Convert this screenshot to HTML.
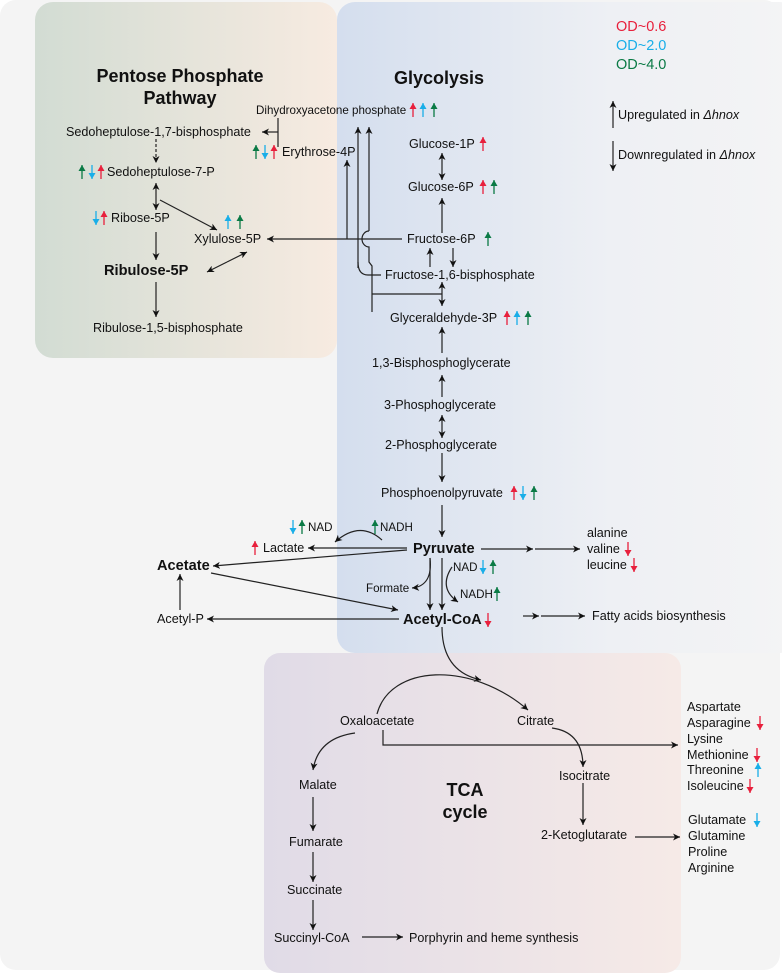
<!DOCTYPE html>
<html><head><meta charset="utf-8"><style>
html,body{margin:0;padding:0;background:#fff;}
svg{display:block;font-family:"Liberation Sans",Arial,sans-serif;}
text{fill:#111;font-size:12.6px;}
.b{font-weight:bold;font-size:14.6px;}
.t{font-weight:bold;font-size:18px;}
.s{font-size:11.6px;}
.l{stroke:#222;stroke-width:1.2;fill:none;}
</style></head><body>
<svg width="782" height="975" viewBox="0 0 782 975">
<defs>
<marker id="a" markerUnits="userSpaceOnUse" markerWidth="8" markerHeight="8" refX="7" refY="4" orient="auto"><path d="M0,0.5 L7,4 L0,7.5 L2,4 Z" fill="#111"/></marker>
<marker id="ar" markerUnits="userSpaceOnUse" markerWidth="8" markerHeight="8" refX="6" refY="4" orient="auto"><path d="M0,0.5 L6,4 L0,7.5 Z" fill="#e8203c"/></marker>
<marker id="ac" markerUnits="userSpaceOnUse" markerWidth="8" markerHeight="8" refX="6" refY="4" orient="auto"><path d="M0,0.5 L6,4 L0,7.5 Z" fill="#19aee8"/></marker>
<marker id="ag" markerUnits="userSpaceOnUse" markerWidth="8" markerHeight="8" refX="6" refY="4" orient="auto"><path d="M0,0.5 L6,4 L0,7.5 Z" fill="#0a7a45"/></marker>
<linearGradient id="gp" x1="0" x2="1"><stop offset="0" stop-color="#d2dcd3"/><stop offset="1" stop-color="#f7ebe1"/></linearGradient>
<linearGradient id="gg" x1="0" x2="1"><stop offset="0" stop-color="#d4deee"/><stop offset="0.6" stop-color="#eef0f4"/><stop offset="1" stop-color="#f4f4f5"/></linearGradient>
<linearGradient id="gt" x1="0" x2="1"><stop offset="0" stop-color="#e0dbe7"/><stop offset="1" stop-color="#f6eae7"/></linearGradient>
</defs>
<rect x="0" y="0" width="780" height="970" rx="16" fill="#f4f4f4"/>
<rect x="337" y="2" width="460" height="651" rx="18" fill="url(#gg)"/>
<rect x="35" y="2" width="302" height="356" rx="18" fill="url(#gp)"/>
<rect x="264" y="653" width="417" height="320" rx="16" fill="url(#gt)"/>

<text x="616" y="31" style="font-size:14.5px;fill:#e8203c">OD~0.6</text>
<text x="616" y="50" style="font-size:14.5px;fill:#19aee8">OD~2.0</text>
<text x="616" y="69" style="font-size:14.5px;fill:#0a7a45">OD~4.0</text>
<line class="l" x1="613" y1="128" x2="613" y2="101" marker-end="url(#a)"/>
<text x="618" y="119">Upregulated in <tspan font-style="italic">Δhnox</tspan></text>
<line class="l" x1="613" y1="141" x2="613" y2="171" marker-end="url(#a)"/>
<text x="618" y="159">Downregulated in <tspan font-style="italic">Δhnox</tspan></text>

<text class="t" x="180" y="82" text-anchor="middle">Pentose Phosphate</text>
<text class="t" x="180" y="104" text-anchor="middle">Pathway</text>
<text class="t" x="439" y="84" text-anchor="middle">Glycolysis</text>
<text class="t" x="465" y="796" text-anchor="middle">TCA</text>
<text class="t" x="465" y="818" text-anchor="middle">cycle</text>

<text class="s" x="256" y="114">Dihydroxyacetone phosphate</text>
<text x="66" y="136">Sedoheptulose-1,7-bisphosphate</text>
<line class="l" x1="278" y1="118" x2="278" y2="147"/>
<line class="l" x1="278" y1="132" x2="262" y2="132" marker-end="url(#a)"/>
<text x="282" y="156">Erythrose-4P</text>
<line class="l" x1="156" y1="139" x2="156" y2="163" stroke-dasharray="3,2" marker-end="url(#a)"/>
<text x="107" y="176">Sedoheptulose-7-P</text>
<line class="l" x1="156" y1="196" x2="156" y2="183" marker-end="url(#a)"/>
<line class="l" x1="156" y1="196" x2="156" y2="210" marker-end="url(#a)"/>
<line class="l" x1="160" y1="200" x2="217" y2="230" marker-end="url(#a)"/>
<text x="111" y="222">Ribose-5P</text>
<text x="194" y="243">Xylulose-5P</text>
<line class="l" x1="156" y1="232" x2="156" y2="260" marker-end="url(#a)"/>
<text class="b" x="104" y="275">Ribulose-5P</text>
<line class="l" x1="227" y1="262" x2="247" y2="252" marker-end="url(#a)"/>
<line class="l" x1="227" y1="262" x2="207" y2="272" marker-end="url(#a)"/>
<line class="l" x1="156" y1="282" x2="156" y2="317" marker-end="url(#a)"/>
<text x="93" y="332">Ribulose-1,5-bisphosphate</text>

<line class="l" x1="402" y1="239" x2="267" y2="239" marker-end="url(#a)"/>
<line class="l" x1="347" y1="239" x2="347" y2="160" marker-end="url(#a)"/>
<path class="l" d="M358,268 V127" marker-end="url(#a)"/>
<path class="l" d="M358,262 Q358,275 368,275 H381"/>
<path class="l" d="M369,231 V127" marker-end="url(#a)"/>
<path class="l" d="M369,231 A7,8 0 0 0 369,247 V262 L372,266 V312"/>
<path class="l" d="M372,294 H442"/>

<text x="409" y="148">Glucose-1P</text>
<line class="l" x1="442" y1="166" x2="442" y2="153" marker-end="url(#a)"/>
<line class="l" x1="442" y1="166" x2="442" y2="180" marker-end="url(#a)"/>
<text x="408" y="191">Glucose-6P</text>
<line class="l" x1="442" y1="233" x2="442" y2="198" marker-end="url(#a)"/>
<text x="407" y="243">Fructose-6P</text>
<line class="l" x1="430" y1="267" x2="430" y2="248" marker-end="url(#a)"/>
<line class="l" x1="453" y1="248" x2="453" y2="267" marker-end="url(#a)"/>
<text x="385" y="279">Fructose-1,6-bisphosphate</text>
<line class="l" x1="442" y1="294" x2="442" y2="282" marker-end="url(#a)"/>
<line class="l" x1="442" y1="294" x2="442" y2="306" marker-end="url(#a)"/>
<text x="390" y="322">Glyceraldehyde-3P</text>
<line class="l" x1="442" y1="353" x2="442" y2="327" marker-end="url(#a)"/>
<text x="372" y="367">1,3-Bisphosphoglycerate</text>
<line class="l" x1="442" y1="397" x2="442" y2="375" marker-end="url(#a)"/>
<text x="384" y="409">3-Phosphoglycerate</text>
<line class="l" x1="442" y1="426" x2="442" y2="415" marker-end="url(#a)"/>
<line class="l" x1="442" y1="426" x2="442" y2="438" marker-end="url(#a)"/>
<text x="385" y="449">2-Phosphoglycerate</text>
<line class="l" x1="442" y1="453" x2="442" y2="482" marker-end="url(#a)"/>
<text x="381" y="497">Phosphoenolpyruvate</text>
<line class="l" x1="442" y1="505" x2="442" y2="537" marker-end="url(#a)"/>
<text class="b" x="413" y="553">Pyruvate</text>

<text class="s" x="308" y="531">NAD</text>
<text class="s" x="380" y="531">NADH</text>
<path class="l" d="M382,540 Q360,520 335,542" marker-end="url(#a)"/>
<text x="263" y="552">Lactate</text>
<line class="l" x1="407" y1="548" x2="308" y2="548" marker-end="url(#a)"/>
<text class="b" x="157" y="570">Acetate</text>
<line class="l" x1="407" y1="550" x2="213" y2="566" marker-end="url(#a)"/>
<line class="l" x1="211" y1="573" x2="398" y2="610" marker-end="url(#a)"/>
<text x="157" y="623">Acetyl-P</text>
<line class="l" x1="180" y1="610" x2="180" y2="574" marker-end="url(#a)"/>
<line class="l" x1="399" y1="619" x2="207" y2="619" marker-end="url(#a)"/>
<text class="b" x="403" y="624">Acetyl-CoA</text>
<text class="s" x="366" y="592">Formate</text>
<path class="l" d="M430,558 Q433,586 412,588" marker-end="url(#a)"/>
<line class="l" x1="430" y1="558" x2="430" y2="610" marker-end="url(#a)"/>
<line class="l" x1="442" y1="558" x2="442" y2="610" marker-end="url(#a)"/>
<text class="s" x="453" y="571">NAD</text>
<text class="s" x="460" y="598">NADH</text>
<path class="l" d="M452,567 Q438,588 458,602" marker-end="url(#a)"/>
<line class="l" x1="481" y1="549" x2="533" y2="549" marker-end="url(#a)"/>
<line class="l" x1="535" y1="549" x2="580" y2="549" marker-end="url(#a)"/>
<text x="587" y="537">alanine</text>
<text x="587" y="553">valine</text>
<text x="587" y="569">leucine</text>
<line class="l" x1="523" y1="616" x2="539" y2="616" marker-end="url(#a)"/>
<line class="l" x1="541" y1="616" x2="585" y2="616" marker-end="url(#a)"/>
<text x="592" y="620">Fatty acids biosynthesis</text>

<path class="l" d="M442,627 C442,660 458,675 481,680" marker-end="url(#a)"/>
<path class="l" d="M377,714 C390,665 470,660 528,710" marker-end="url(#a)"/>
<text x="340" y="725">Oxaloacetate</text>
<text x="517" y="725">Citrate</text>
<path class="l" d="M383,730 V745 H678" marker-end="url(#a)"/>
<path class="l" d="M552,728 Q583,732 583,767" marker-end="url(#a)"/>
<text x="559" y="780">Isocitrate</text>
<line class="l" x1="583" y1="783" x2="583" y2="825" marker-end="url(#a)"/>
<text x="541" y="839">2-Ketoglutarate</text>
<line class="l" x1="635" y1="837" x2="680" y2="837" marker-end="url(#a)"/>
<text x="299" y="789">Malate</text>
<path class="l" d="M355,733 Q318,738 313,770" marker-end="url(#a)"/>
<line class="l" x1="313" y1="797" x2="313" y2="831" marker-end="url(#a)"/>
<text x="289" y="846">Fumarate</text>
<line class="l" x1="313" y1="852" x2="313" y2="882" marker-end="url(#a)"/>
<text x="287" y="894">Succinate</text>
<line class="l" x1="313" y1="900" x2="313" y2="930" marker-end="url(#a)"/>
<text x="274" y="942">Succinyl-CoA</text>
<line class="l" x1="362" y1="937" x2="403" y2="937" marker-end="url(#a)"/>
<text x="409" y="942">Porphyrin and heme synthesis</text>
<text x="687" y="711">Aspartate</text>
<text x="687" y="727">Asparagine</text>
<text x="687" y="743">Lysine</text>
<text x="687" y="759">Methionine</text>
<text x="687" y="774">Threonine</text>
<text x="687" y="790">Isoleucine</text>
<text x="688" y="824">Glutamate</text>
<text x="688" y="840">Glutamine</text>
<text x="688" y="856">Proline</text>
<text x="688" y="872">Arginine</text>

<g stroke-width="1.3" fill="none">
<line x1="413" y1="117" x2="413" y2="103" stroke="#e8203c" marker-end="url(#ar)"/>
<line x1="423" y1="117" x2="423" y2="103" stroke="#19aee8" marker-end="url(#ac)"/>
<line x1="434" y1="117" x2="434" y2="103" stroke="#0a7a45" marker-end="url(#ag)"/>
<line x1="256" y1="159" x2="256" y2="145" stroke="#0a7a45" marker-end="url(#ag)"/>
<line x1="265" y1="145" x2="265" y2="159" stroke="#19aee8" marker-end="url(#ac)"/>
<line x1="274" y1="159" x2="274" y2="145" stroke="#e8203c" marker-end="url(#ar)"/>
<line x1="82" y1="179" x2="82" y2="165" stroke="#0a7a45" marker-end="url(#ag)"/>
<line x1="92" y1="165" x2="92" y2="179" stroke="#19aee8" marker-end="url(#ac)"/>
<line x1="101" y1="179" x2="101" y2="165" stroke="#e8203c" marker-end="url(#ar)"/>
<line x1="96" y1="211" x2="96" y2="225" stroke="#19aee8" marker-end="url(#ac)"/>
<line x1="104" y1="225" x2="104" y2="211" stroke="#e8203c" marker-end="url(#ar)"/>
<line x1="228" y1="229" x2="228" y2="215" stroke="#19aee8" marker-end="url(#ac)"/>
<line x1="240" y1="229" x2="240" y2="215" stroke="#0a7a45" marker-end="url(#ag)"/>
<line x1="483" y1="151" x2="483" y2="137" stroke="#e8203c" marker-end="url(#ar)"/>
<line x1="483" y1="194" x2="483" y2="180" stroke="#e8203c" marker-end="url(#ar)"/>
<line x1="494" y1="194" x2="494" y2="180" stroke="#0a7a45" marker-end="url(#ag)"/>
<line x1="488" y1="246" x2="488" y2="232" stroke="#0a7a45" marker-end="url(#ag)"/>
<line x1="507" y1="325" x2="507" y2="311" stroke="#e8203c" marker-end="url(#ar)"/>
<line x1="517" y1="325" x2="517" y2="311" stroke="#19aee8" marker-end="url(#ac)"/>
<line x1="528" y1="325" x2="528" y2="311" stroke="#0a7a45" marker-end="url(#ag)"/>
<line x1="514" y1="500" x2="514" y2="486" stroke="#e8203c" marker-end="url(#ar)"/>
<line x1="523" y1="486" x2="523" y2="500" stroke="#19aee8" marker-end="url(#ac)"/>
<line x1="534" y1="500" x2="534" y2="486" stroke="#0a7a45" marker-end="url(#ag)"/>
<line x1="293" y1="520" x2="293" y2="534" stroke="#19aee8" marker-end="url(#ac)"/>
<line x1="302" y1="534" x2="302" y2="520" stroke="#0a7a45" marker-end="url(#ag)"/>
<line x1="375" y1="534" x2="375" y2="520" stroke="#0a7a45" marker-end="url(#ag)"/>
<line x1="255" y1="555" x2="255" y2="541" stroke="#e8203c" marker-end="url(#ar)"/>
<line x1="483" y1="560" x2="483" y2="574" stroke="#19aee8" marker-end="url(#ac)"/>
<line x1="493" y1="574" x2="493" y2="560" stroke="#0a7a45" marker-end="url(#ag)"/>
<line x1="497" y1="601" x2="497" y2="587" stroke="#0a7a45" marker-end="url(#ag)"/>
<line x1="488" y1="613" x2="488" y2="627" stroke="#e8203c" marker-end="url(#ar)"/>
<line x1="628" y1="542" x2="628" y2="556" stroke="#e8203c" marker-end="url(#ar)"/>
<line x1="634" y1="558" x2="634" y2="572" stroke="#e8203c" marker-end="url(#ar)"/>
<line x1="760" y1="716" x2="760" y2="730" stroke="#e8203c" marker-end="url(#ar)"/>
<line x1="757" y1="748" x2="757" y2="762" stroke="#e8203c" marker-end="url(#ar)"/>
<line x1="758" y1="777" x2="758" y2="763" stroke="#19aee8" marker-end="url(#ac)"/>
<line x1="750" y1="779" x2="750" y2="793" stroke="#e8203c" marker-end="url(#ar)"/>
<line x1="757" y1="813" x2="757" y2="827" stroke="#19aee8" marker-end="url(#ac)"/>
</g>
</svg>
</body></html>
